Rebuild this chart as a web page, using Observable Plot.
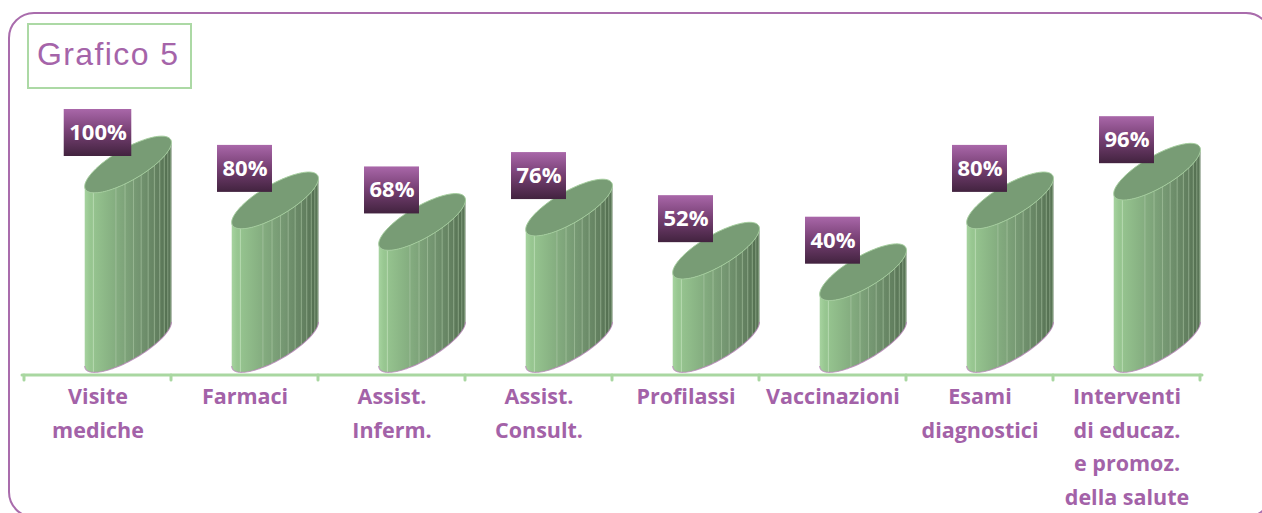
<!DOCTYPE html>
<html><head><meta charset="utf-8">
<script src="https://cdn.jsdelivr.net/npm/d3@7"></script>
<script src="https://cdn.jsdelivr.net/npm/@observablehq/plot@0.6"></script>
<style>
html,body{margin:0;padding:0;background:#fff;}
#wrap{position:relative;width:1262px;height:513px;overflow:hidden;background:#fff;}
#frame{position:absolute;left:8px;top:12px;width:1264px;height:506px;border:2.5px solid #a96cac;border-radius:26px;box-sizing:border-box;}
#chart{position:absolute;left:0;top:0;}
#title{position:absolute;left:27px;top:23px;width:165px;height:66px;border:2px solid #acd9a5;box-sizing:border-box;font-family:"Liberation Sans",Arial,sans-serif;font-size:32px;letter-spacing:1.4px;color:#a564a9;line-height:58px;padding-left:8px;white-space:nowrap;}
</style></head><body>
<div id="wrap"><div id="frame"></div><div id="chart"></div><div id="title">Grafico 5</div></div>
<script>
const categories = ["Visite mediche", "Farmaci", "Assist. Inferm.", "Assist. Consult.", "Profilassi", "Vaccinazioni", "Esami diagnostici", "Interventi di educaz. e promoz. della salute"];
const tickLabels = ["Visite\nmediche", "Farmaci", "Assist.\nInferm.", "Assist.\nConsult.", "Profilassi", "Vaccinazioni", "Esami\ndiagnostici", "Interventi\ndi educaz.\ne promoz.\ndella salute"];
const values = [100, 80, 68, 76, 52, 40, 80, 96];
const valueLabels = ["100%", "80%", "68%", "76%", "52%", "40%", "80%", "96%"];

const data = categories.map((c, i) => ({cat: c, tick: tickLabels[i], value: values[i], label: valueLabels[i]}));

const NS = "http://www.w3.org/2000/svg";
const el = (tag, attrs) => { const e = document.createElementNS(NS, tag); for (const k in attrs) e.setAttribute(k, attrs[k]); return e; };
const bandW = (x) => x(categories[1]) - x(categories[0]);

const measure = (() => { const c = document.createElement("canvas").getContext("2d"); c.font = "bold 22px 'Open Sans'"; return t => c.measureText(t).width; })();

// axis line + ticks at band boundaries
function axisMark(index, scales, values, dims) {
  const x = scales.x, bw = bandW(x);
  const g = el("g", {stroke: "#a9d7a1", "stroke-width": 3, "stroke-linecap": "round", fill: "none"});
  const y0 = dims.height - dims.marginBottom;
  g.appendChild(el("line", {x1: dims.marginLeft, x2: dims.width - dims.marginRight, y1: y0, y2: y0}));
  const bounds = categories.map(c => x(c)).concat([x(categories[categories.length - 1]) + bw]);
  for (const b of bounds) g.appendChild(el("line", {x1: b, x2: b, y1: y0, y2: y0 + 5}));
  return g;
}

// 3D cylinders
function cylinderMark(index, scales, values, dims) {
  const x = scales.x, y = scales.y, bw = bandW(x);
  const g = el("g", {});
  const defs = el("defs", {});
  const grad = el("linearGradient", {id: "bodyGrad", x1: 0, x2: 1, y1: 0, y2: 0});
  [[0, "#a6d39f"], [0.06, "#98c791"], [0.3, "#88b283"], [0.6, "#759772"], [0.85, "#627f5f"], [1, "#4f6a4c"]]
    .forEach(([o, c]) => grad.appendChild(el("stop", {offset: o, "stop-color": c})));
  defs.appendChild(grad);
  g.appendChild(defs);
  for (const d of data) {
    const bx = x(d.cat);
    const cx = bx + bw * 0.708, a = bw * 0.295, s = a * 0.506, b = a * 0.414;
    const yb = y(0), yt = y(d.value);
    const pt = (cy, th) => [cx + a * Math.cos(th), cy - s * Math.cos(th) + b * Math.sin(th)];
    const n = 60;
    const pts = [];
    for (let k = 0; k <= n; k++) pts.push(pt(yb, Math.PI - k * Math.PI / n));
    for (let k = 0; k <= n; k++) pts.push(pt(yt, k * Math.PI / n));
    g.appendChild(el("path", {d: "M" + pts.map(p => p.join(",")).join("L") + "Z", fill: "url(#bodyGrad)"}));
    // facet stripes
    const N = 13;
    const fr = [0.1];
    for (let k = 3; k < N; k++) { const t = k / N; fr.push(1 - Math.pow(1 - t, 1.7)); }
    for (const f of fr) {
      const t2 = Math.acos(-(1 - 2 * f));
      const qb = pt(yb, t2), qt = pt(yt, t2);
      g.appendChild(el("line", {x1: qb[0], x2: qt[0], y1: qb[1], y2: qt[1], stroke: f < 0.2 ? "#c4e2bd" : "#b9d4b3", "stroke-opacity": f < 0.2 ? 0.8 : 0.55, "stroke-width": 0.9}));
    }
    // bottom purple shadow edge
    const bot = [];
    for (let k = 0; k <= n; k++) bot.push(pt(yb, Math.PI - k * Math.PI / n));
    g.appendChild(el("path", {d: "M" + bot.map(p => p.join(",")).join("L"), fill: "none", stroke: "#b784b8", "stroke-width": 1.1, "stroke-opacity": 0.8}));
    // top face
    const top = [];
    for (let k = 0; k <= 2 * n; k++) top.push(pt(yt, k * Math.PI / n));
    g.appendChild(el("path", {d: "M" + top.map(p => p.join(",")).join("L") + "Z", fill: "#789c75", stroke: "#a3cd9c", "stroke-width": 1}));
  }
  return g;
}

// purple label boxes
function boxMark(index, scales, values, dims) {
  const x = scales.x, y = scales.y, bw = bandW(x);
  const g = el("g", {});
  const defs = el("defs", {});
  const grad = el("linearGradient", {id: "boxGrad", x1: 0, x2: 0, y1: 0, y2: 1});
  [[0, "#a967a9"], [0.45, "#7a4277"], [1, "#42233f"]].forEach(([o, c]) => grad.appendChild(el("stop", {offset: o, "stop-color": c})));
  defs.appendChild(grad);
  g.appendChild(defs);
  for (const d of data) {
    const cx = x(d.cat) + bw / 2;
    const cy = y(d.value) - 32;
    const w = measure(d.label) + 10, h = 47;
    g.appendChild(el("rect", {x: cx - w / 2, y: cy - h / 2, width: w, height: h, fill: "url(#boxGrad)"}));
  }
  return g;
}

const chart = Plot.plot({
  width: 1262,
  height: 513,
  marginLeft: 22,
  marginRight: 60,
  marginTop: 0,
  marginBottom: 138,
  style: {background: "none", overflow: "visible"},
  x: {type: "band", domain: categories, padding: 0, axis: null},
  y: {domain: [0, 100], range: [344, 164.5], axis: null},
  marks: [
    axisMark,
    cylinderMark,
    boxMark,
    Plot.text(data, {x: "cat", y: "value", text: "label", dy: -32, fill: "white", fontWeight: "bold", fontSize: 22, fontFamily: "'Open Sans', sans-serif"}),
    Plot.text(data, {x: "cat", text: "tick", frameAnchor: "bottom", lineAnchor: "top", dy: 5, lineHeight: 1.56, fill: "#a362a8", fontWeight: "bold", fontSize: 21.5, fontFamily: "'Open Sans', sans-serif"})
  ]
});
document.getElementById("chart").appendChild(chart);
</script>
</body></html>
